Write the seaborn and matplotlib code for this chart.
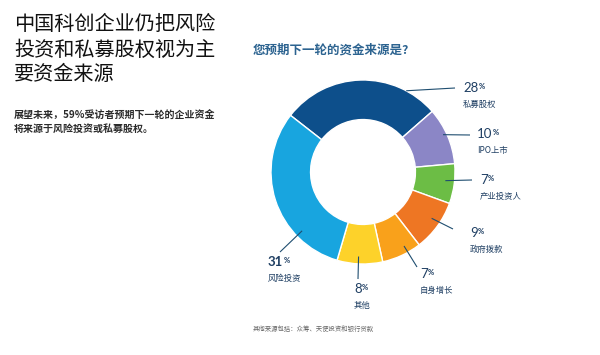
import numpy as np
import matplotlib
matplotlib.use("Agg")
import matplotlib.pyplot as plt
import seaborn as sns

# ---- data ----
categories = ["私募股权", "IPO上市", "产业投资人", "政府拨款", "自身增长", "其他", "风险投资"]
values = [28, 10, 7, 9, 7, 8, 31]
colors = ["#0d4f8b", "#8b86c6", "#6cbd45", "#ee7623", "#f9a11b", "#fdd22a", "#18a5df"]

title_lines = ["中国科创企业仍把风险", "投资和私募股权视为主", "要资金来源"]
sub_lines = ["展望未来，59%受访者预期下一轮的企业资金", "将来源于风险投资或私募股权。"]
question = "您预期下一轮的资金来源是?"
footnote = "其他来源包括：众筹、天使投资和银行贷款"

# label layout (pixel positions in a 600x355 canvas)
anchor_angles = [62, 25, -6, -34, -61, -93, -136]
anchor_radius = [1.0, 0.96, 0.9, 0.9, 0.92, 0.92, 0.92]
line_ends = [(455, 88), (470, 135), (472, 180), (453, 229), (417, 267), (358, 279), (280, 252)]
text_pos = [(463, 88), (477, 134), (480, 180), (470, 233), (420, 274), (354, 289), (268, 262)]

sns.set_theme(style="white")
plt.rcParams["font.family"] = ["Noto Sans CJK SC", "DejaVu Sans"]

W, H = 600, 355
fig = plt.figure(figsize=(6, 3.55), dpi=100)
fig.patch.set_facecolor("white")

cx, cy, R = 363, 172, 92
ax = fig.add_axes([(cx - R) / W, (H - cy - R) / H, 2 * R / W, 2 * R / H])
ax.pie(values, colors=sns.color_palette(colors), startangle=142, counterclock=False,
       radius=1.0, wedgeprops=dict(width=0.43, edgecolor="white", linewidth=1.0))
ax.set_xlim(-1, 1)
ax.set_ylim(-1, 1)
ax.set_aspect("equal")
ax.axis("off")


def px2data(px, py):
    return ((px - cx) / R, (cy - py) / R)


label_color = "#1f3f63"
for i, (cat, v) in enumerate(zip(categories, values)):
    a = np.deg2rad(anchor_angles[i])
    r = anchor_radius[i]
    x0, y0 = r * np.cos(a), r * np.sin(a)
    x1, y1 = px2data(*line_ends[i])
    ax.plot([x0, x1], [y0, y1], color="#1f4e70", lw=0.8, solid_capstyle="butt",
            clip_on=False, zorder=5)
    tx, ty = px2data(*text_pos[i])
    bold = "bold" if cat == "风险投资" else "normal"
    t = ax.text(tx, ty, f"{v}", fontsize=9.5, color=label_color, ha="left", va="center",
                family=["Lato", "DejaVu Sans"], weight=bold, clip_on=False)
    ax.annotate("%", xy=(1.0, 0.92), xycoords=t, xytext=(0.2, 0), textcoords="offset points",
                fontsize=5.5, color=label_color, ha="left", va="top",
                family=["Lato", "DejaVu Sans"], weight="bold", annotation_clip=False)
    ax.annotate(cat, xy=(0, 0), xycoords=t, xytext=(0, -4), textcoords="offset points",
                fontsize=6, color=label_color, ha="left", va="top", annotation_clip=False)

# left text block
for k, line in enumerate(title_lines):
    fig.text(14 / W, 1 - (25 + 25 * k) / H, line, fontsize=14.5, color="#111111",
             ha="left", va="center")
for k, line in enumerate(sub_lines):
    fig.text(14 / W, 1 - (115 + 14 * k) / H, line, fontsize=7.2, color="#2b2b2b",
             ha="left", va="center", weight="bold")

fig.text(253 / W, 1 - 50 / H, question, fontsize=9, color="#2c6390", weight="bold",
         ha="left", va="center")
fig.text(253 / W, 1 - 329 / H, footnote, fontsize=4.6, color="#666666",
         ha="left", va="center")

fig.savefig("out.png", dpi=100, facecolor="white")
